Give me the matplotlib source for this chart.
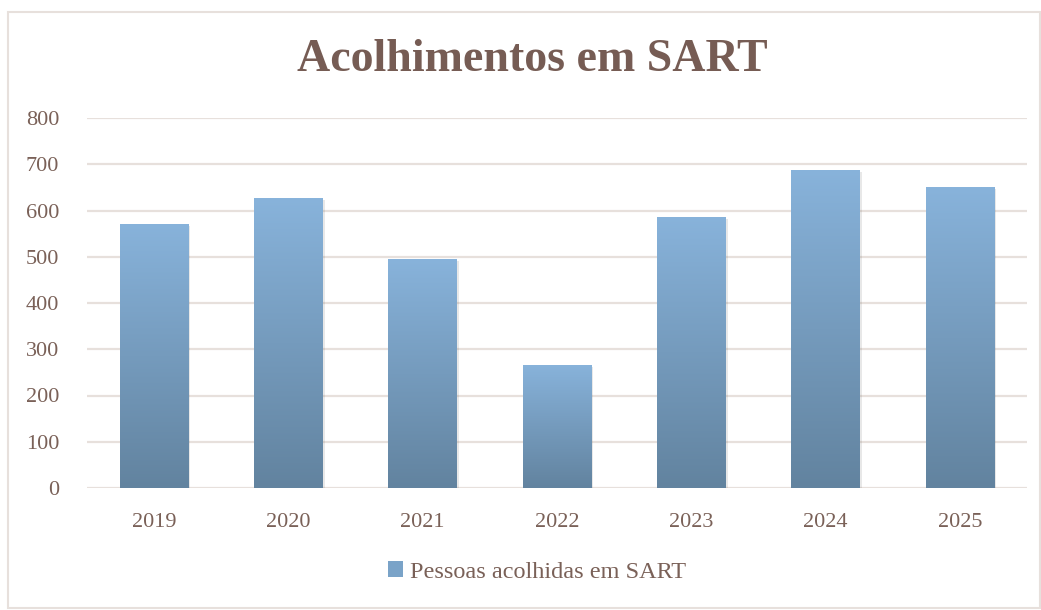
import matplotlib
matplotlib.use("Agg")
import matplotlib.pyplot as plt
import matplotlib.patheffects as pe
from matplotlib.colors import LinearSegmentedColormap
from matplotlib.patches import Rectangle
import numpy as np

# data
years = ["2019", "2020", "2021", "2022", "2023", "2024", "2025"]
acolhidos = [571, 627, 495, 266, 586, 688, 650]
y_ticks = [0, 100, 200, 300, 400, 500, 600, 700, 800]

TEXT = "#7a6158"
TITLE = "#765c54"
GRID = "#e7e0dc"
TOP_BLUE = "#88b3db"
BOTTOM_BLUE = "#62839f"

plt.rcParams["font.family"] = ["Liberation Serif", "DejaVu Serif"]

fig = plt.figure(figsize=(10.41, 6.10), dpi=100)
ax = fig.add_axes([87 / 1041, 1 - 488 / 610, (1027 - 87) / 1041, (488 - 118) / 610])

gradient = LinearSegmentedColormap.from_list("bar", [BOTTOM_BLUE, TOP_BLUE])
ramp = np.linspace(0, 1, 256).reshape(-1, 1)
width = 0.51
x = np.arange(len(years))
bars = ax.bar(x, acolhidos, width=width, color="none", edgecolor="none", zorder=3)
for bar in bars:
    bar.set_path_effects([pe.SimplePatchShadow(offset=(1.5, -1.5), alpha=0.12, shadow_rgbFace="#444444")])
    x0, h = bar.get_x(), bar.get_height()
    img = ax.imshow(ramp, cmap=gradient, origin="lower", aspect="auto",
                    extent=[x0, x0 + width, 0, h], zorder=3)
    img.set_clip_path(bar)

ax.set_xlim(-0.5, len(years) - 0.5)
ax.set_ylim(0, 800)
ax.set_yticks(y_ticks)
ax.set_yticklabels([str(v) for v in y_ticks])
ax.set_xticks(x)
ax.set_xticklabels(years)
ax.tick_params(axis="both", length=0, labelsize=16, labelcolor=TEXT)
ax.tick_params(axis="y", pad=20)
ax.tick_params(axis="x", pad=18)
ax.grid(axis="y", color=GRID, linewidth=1.6, zorder=0)
ax.set_axisbelow(True)
for side in ("top", "right", "left", "bottom"):
    ax.spines[side].set_visible(False)

fig.text(0.511, 1 - 60 / 610, "Acolhimentos em SART", ha="center", va="center",
         fontsize=33, fontweight="bold", color=TITLE)

handle = Rectangle((0, 0), 1, 1, facecolor="#7aa3c8", edgecolor="none")
fig.legend([handle], ["Pessoas acolhidas em SART"], loc="center",
           bbox_to_anchor=(537 / 1041, 1 - 572 / 610), frameon=False,
           fontsize=17.5, labelcolor=TEXT, handlelength=0.6, handleheight=0.6,
           handletextpad=0.3)

fig.patches.append(Rectangle((8 / 1041, 2 / 610), 1 - 9 / 1041, 1 - 14 / 610,
                             transform=fig.transFigure, fill=False,
                             edgecolor=GRID, linewidth=1.5))

fig.savefig("out.png", dpi=100)
